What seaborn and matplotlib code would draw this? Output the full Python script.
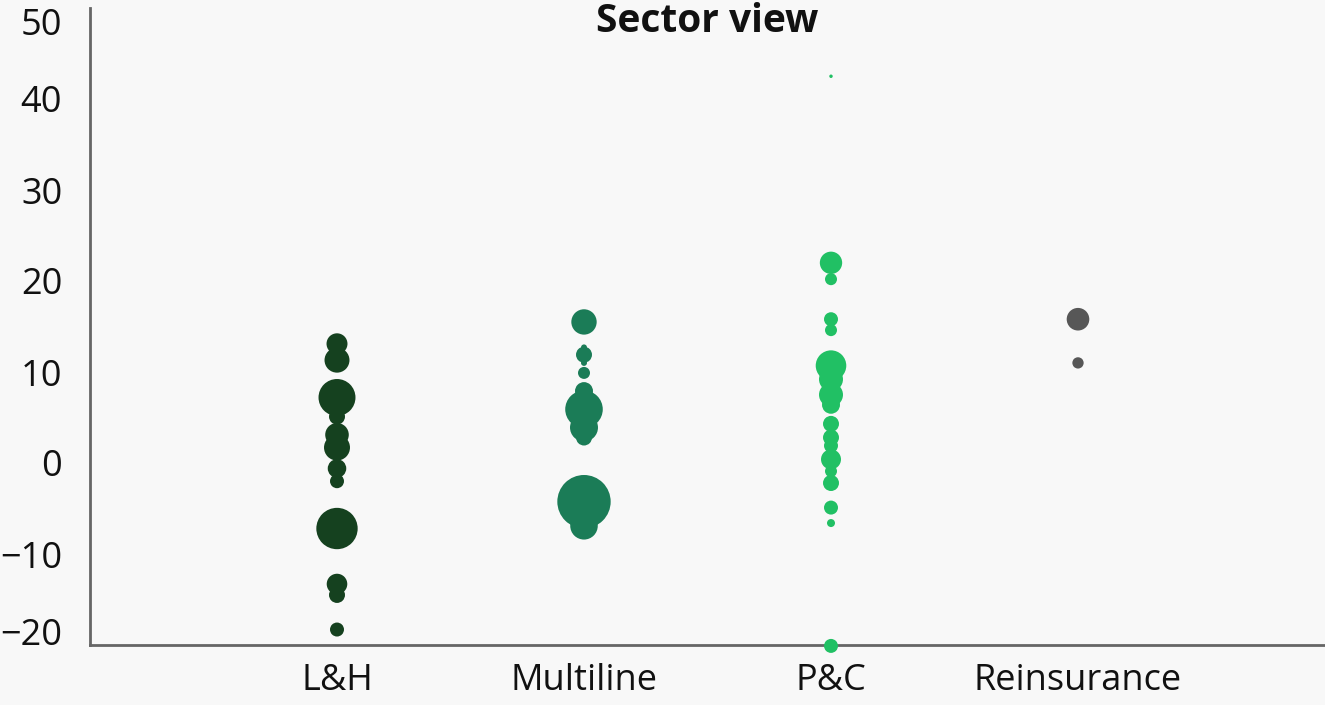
import matplotlib
matplotlib.use("Agg")
import matplotlib.pyplot as plt
import seaborn as sns
import pandas as pd

# ---- data ----
categories = ["L&H", "Multiline", "P&C", "Reinsurance"]

lh_values = [13.1, 11.3, 7.2, 5.1, 3.1, 1.7, -0.6, -2.0, -7.2, -13.3, -14.5, -18.3]
lh_weights = [110, 156, 342, 64, 139, 169, 86, 49, 428, 106, 64, 49]

multi_values = [15.5, 12.7, 11.9, 11.0, 9.9, 7.9, 5.9, 3.9, 2.8, -4.25, -6.9]
multi_weights = [161, 9, 64, 9, 36, 81, 353, 196, 64, 713, 190]

pc_values = [42.5, 22.0, 20.2, 15.8, 14.6, 10.7, 9.2, 7.5, 6.4, 4.3, 2.8, 1.9, 0.4, -0.9, -2.2, -4.9, -6.6, -20.1]
pc_weights = [3, 125, 36, 49, 36, 234, 144, 144, 81, 64, 64, 49, 100, 36, 64, 49, 16, 49]

re_values = [15.8, 11.0]
re_weights = [128, 32]

colors = ["#15411f", "#1b7c57", "#21c064", "#575757"]

yticks = [-20, -10, 0, 10, 20, 30, 40, 50]

# ---- frame ----
rows = []
for cat, vals, wts in zip(categories,
                          [lh_values, multi_values, pc_values, re_values],
                          [lh_weights, multi_weights, pc_weights, re_weights]):
    for v, w in zip(vals, wts):
        rows.append({"sector": cat, "value": v, "weight": w})
df = pd.DataFrame(rows)

sns.set_theme(style="white")
plt.rcParams["font.family"] = ["Open Sans", "DejaVu Sans"]
bg = "#f8f8f8"

fig = plt.figure(figsize=(13.25, 7.05), dpi=100, facecolor=bg)
ax = fig.add_axes([90 / 1325, 60 / 705, 1 - 90 / 1325, (645 - 8) / 705])
ax.set_facecolor(bg)

k = 2.07  # px^2 -> pt^2 area scale
wmin, wmax = df["weight"].min(), df["weight"].max()
sns.scatterplot(data=df, x="sector", y="value", hue="sector",
                palette=dict(zip(categories, colors)),
                size="weight", sizes=(k * wmin, k * wmax), size_norm=(wmin, wmax),
                linewidth=0, alpha=1, legend=False, ax=ax, zorder=5, clip_on=False)

ax.set_xlim(-1.0, 4.0)
ax.set_ylim(-20, 50)
ax.set_yticks(yticks)
ax.set_yticklabels([("\u2212" + str(abs(t))) if t < 0 else str(t) for t in yticks])
ax.set_xlabel("")
ax.set_ylabel("")

for s in ["top", "right"]:
    ax.spines[s].set_visible(False)
for s in ["left", "bottom"]:
    ax.spines[s].set_color("#666666")
    ax.spines[s].set_linewidth(2)
    ax.spines[s].set_zorder(2)

ax.tick_params(axis="y", length=0, pad=20, labelsize=26, labelcolor="#111111")
ax.tick_params(axis="x", length=0, pad=13, labelsize=26, labelcolor="#111111")

labels = ax.get_yticklabels()
labels[-1].set_va("top")
labels[0].set_va("baseline")

ax.text(0.5, 1 - 14 / 637, "Sector view", transform=ax.transAxes,
        ha="center", va="center", fontsize=28, fontweight="bold", color="#111111")

fig.savefig("out.png", dpi=100, facecolor=bg)
